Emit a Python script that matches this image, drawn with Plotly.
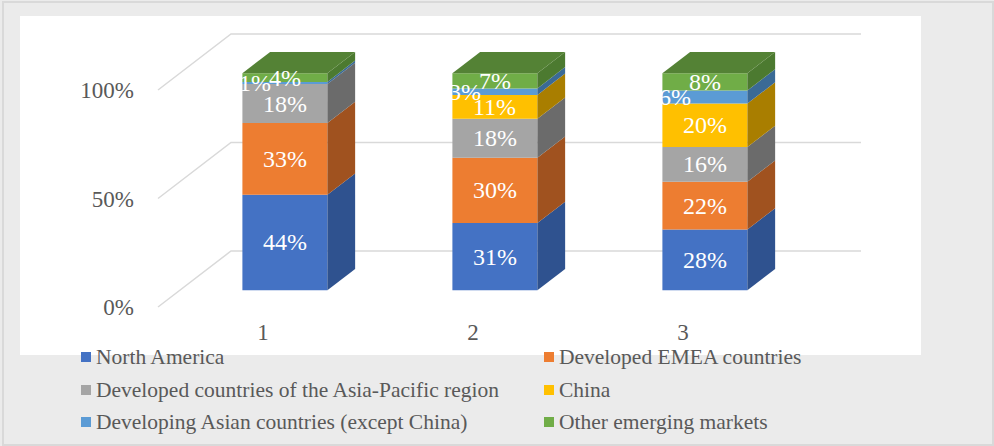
import plotly.graph_objects as go

# ---------------- data ----------------
categories = [1, 2, 3]
category_labels = ["1", "2", "3"]
series_names = [
    "North America",
    "Developed EMEA countries",
    "Developed countries of the Asia-Pacific region",
    "China",
    "Developing Asian countries (except China)",
    "Other emerging markets",
]
north_america = [44, 31, 28]
developed_emea = [33, 30, 22]
developed_apac = [18, 18, 16]
china = [0, 11, 20]
developing_asia = [1, 3, 6]
other_emerging = [4, 7, 8]
series_values = [north_america, developed_emea, developed_apac, china, developing_asia, other_emerging]

y_tick_vals = [0, 50, 100]
y_tick_text = ["0%", "50%", "100%"]

# ---------------- styles ----------------
front_colors = ["#4472C4", "#ED7D31", "#A5A5A5", "#FFC000", "#5B9BD5", "#70AD47"]
side_colors = ["#2F528F", "#A0521F", "#6B6B6B", "#A97E00", "#3A6A96", "#4C7A30"]
top_colors = ["#3A62A8", "#C96A2A", "#8C8C8C", "#D9A300", "#4D85B5", "#548235"]
FONT = "Liberation Serif, Times New Roman, serif"
TXT = "#595959"

W, H = 994, 446
# pixel mapping (layout)
PX_CAT, PX_PCT = 210.0, 2.17
X0_PX, Y0_PX = 263.0, 307.0            # category 1 / 0% at front plane
DEPTH_DX_PX, DEPTH_DY_PX = 73.0, 56.0  # full depth of the 3-D box
DX = DEPTH_DX_PX / PX_CAT
DY = DEPTH_DY_PX / PX_PCT
D_FRONT, D_BACK = 0.30, 0.68
HALF_W = 42.5 / PX_CAT

ML, MR, MT, MB = 145, W - 880, 20, H - 316
x_range = [1 + (ML - X0_PX) / PX_CAT, 1 + ((W - MR) - X0_PX) / PX_CAT]
y_range = [(Y0_PX - (H - MB)) / PX_PCT, (Y0_PX - MT) / PX_PCT]


def proj(x, v, d):
    return x + d * DX, v + d * DY


def px2paper(px, py):
    return (px - ML) / (W - ML - MR), ((H - MB) - py) / (H - MT - MB)


fig = go.Figure()

# gridlines on side and back wall
for v in y_tick_vals:
    pts = [proj(0.5, v, 0), proj(0.5, v, 1), proj(3.5, v, 1)]
    fig.add_trace(go.Scatter(x=[p[0] for p in pts], y=[p[1] for p in pts], mode="lines",
                             line=dict(color="#D9D9D9", width=1.5), hoverinfo="skip", showlegend=False))

annotations = []
n_series = len(series_values)
for ci, c in enumerate(categories):
    base = 0.0
    top_idx = max(i for i in range(n_series) if series_values[i][ci] > 0)
    for si in range(n_series):
        v = series_values[si][ci]
        if v <= 0:
            continue
        lo, hi = base, base + v
        xl, xr = c - HALF_W, c + HALF_W
        # front face
        f = [proj(xl, lo, D_FRONT), proj(xr, lo, D_FRONT), proj(xr, hi, D_FRONT), proj(xl, hi, D_FRONT), proj(xl, lo, D_FRONT)]
        fig.add_trace(go.Scatter(x=[p[0] for p in f], y=[p[1] for p in f], mode="lines", fill="toself",
                                 fillcolor=front_colors[si], line=dict(width=0, color=front_colors[si]),
                                 hoverinfo="skip", showlegend=False))
        # side face
        s = [proj(xr, lo, D_FRONT), proj(xr, lo, D_BACK), proj(xr, hi, D_BACK), proj(xr, hi, D_FRONT), proj(xr, lo, D_FRONT)]
        fig.add_trace(go.Scatter(x=[p[0] for p in s], y=[p[1] for p in s], mode="lines", fill="toself",
                                 fillcolor=side_colors[si], line=dict(width=0, color=side_colors[si]),
                                 hoverinfo="skip", showlegend=False))
        if si == top_idx:
            t = [proj(xl, hi, D_FRONT), proj(xr, hi, D_FRONT), proj(xr, hi, D_BACK), proj(xl, hi, D_BACK), proj(xl, hi, D_FRONT)]
            fig.add_trace(go.Scatter(x=[p[0] for p in t], y=[p[1] for p in t], mode="lines", fill="toself",
                                     fillcolor=top_colors[si], line=dict(width=0, color=top_colors[si]),
                                     hoverinfo="skip", showlegend=False))
        lx, ly = proj(c, (lo + hi) / 2, D_FRONT)
        annotations.append(dict(x=lx, y=ly, xref="x", yref="y", text=f"{v}%", showarrow=False,
                                xshift=-30 if si == 4 else 0,
                                font=dict(family=FONT, size=24, color="white")))
        base = hi

# custom legend (two columns)
leg_cols_px = [81, 544]
leg_rows_px = [357, 390, 422]
shapes = []
for i, name in enumerate(series_names):
    cx = leg_cols_px[i % 2]
    cy = leg_rows_px[i // 2]
    x0, y0 = px2paper(cx, cy + 5)
    x1, y1 = px2paper(cx + 10, cy - 5)
    shapes.append(dict(type="rect", xref="paper", yref="paper", x0=x0, y0=y0, x1=x1, y1=y1,
                       fillcolor=front_colors[i], line=dict(width=0)))
    tx, ty = px2paper(cx + 13, cy)
    annotations.append(dict(x=tx, y=ty, xref="paper", yref="paper", text=name, showarrow=False,
                            xanchor="left", yanchor="middle", font=dict(family=FONT, size=21.5, color=TXT)))

# backgrounds
bx0, by0 = px2paper(20, 355)
bx1, by1 = px2paper(921, 16)
shapes.insert(0, dict(type="rect", xref="paper", yref="paper", x0=bx0, y0=by0, x1=bx1, y1=by1,
                      fillcolor="white", line=dict(width=0), layer="below"))
ox0, oy0 = px2paper(3, 445)
ox1, oy1 = px2paper(993, 2)
shapes.append(dict(type="rect", xref="paper", yref="paper", x0=ox0, y0=oy0, x1=ox1, y1=oy1,
                   fillcolor="rgba(0,0,0,0)", line=dict(width=2, color="#D9D9D9"), layer="below"))

fig.update_layout(
    width=W, height=H, autosize=False,
    margin=dict(l=ML, r=MR, t=MT, b=MB, pad=0),
    paper_bgcolor="#EBEBEB", plot_bgcolor="white",
    showlegend=False,
    shapes=shapes, annotations=annotations,
    xaxis=dict(range=x_range, tickvals=categories, ticktext=category_labels, showgrid=False, zeroline=False,
               showline=False, ticks="", tickfont=dict(family=FONT, size=23, color=TXT), fixedrange=True),
    yaxis=dict(range=y_range, tickvals=y_tick_vals, ticktext=y_tick_text, showgrid=False, zeroline=False,
               showline=False, ticks="", ticklabelstandoff=10,
               tickfont=dict(family=FONT, size=23, color=TXT), fixedrange=True),
)

fig.write_html("out.html")
